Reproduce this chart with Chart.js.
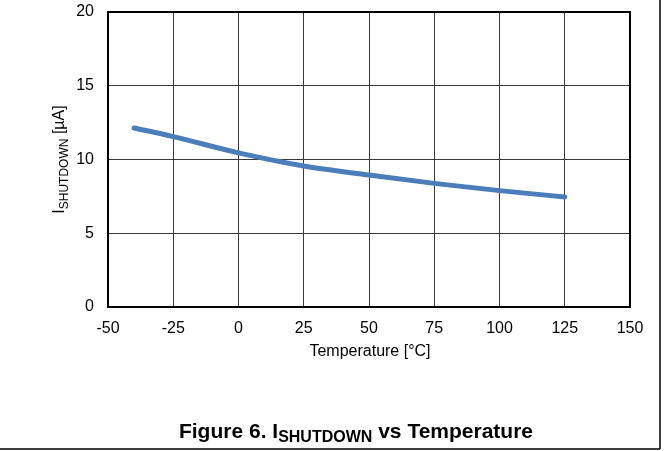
<!DOCTYPE html>
<html>
<head>
<meta charset="utf-8">
<script src="https://cdn.jsdelivr.net/npm/chart.js"></script>
<style>
  html, body { margin: 0; padding: 0; background: #fff; }
  #wrap { width: 669px; height: 451px; position: relative; }
</style>
</head>
<body>
<div id="wrap"><canvas id="chartShutdown"></canvas></div>
<script>
// 데이터
var temperatures = [-40, -25, 0, 25, 50, 75, 100, 125];
var shutdownCurrent = [12.14, 11.55, 10.45, 9.56, 8.95, 8.38, 7.89, 7.46];
var xTicks = [-50, -25, 0, 25, 50, 75, 100, 125, 150];
var yTicks = [0, 5, 10, 15, 20];

var FONT = 'Arial, "Liberation Sans", sans-serif';

// 제목/축 이름 (아래첨자 포함) 그리기
var labelPlugin = {
  id: 'labels',
  afterDraw: function(chart) {
    var ctx = chart.ctx;
    var a = chart.chartArea;
    ctx.save();
    ctx.fillStyle = '#000';

    // 플롯 테두리
    ctx.strokeStyle = '#000';
    ctx.lineWidth = 2;
    ctx.strokeRect(a.left, a.top, a.right - a.left, a.bottom - a.top);

    // 그림 테두리 (오른쪽, 아래)
    ctx.lineWidth = 1.5;
    ctx.beginPath();
    ctx.moveTo(660, 0); ctx.lineTo(660, 449);
    ctx.moveTo(0, 449); ctx.lineTo(660, 449);
    ctx.stroke();

    // x 축 이름
    ctx.font = '16px ' + FONT;
    ctx.textAlign = 'center';
    ctx.textBaseline = 'middle';
    ctx.fillText('Temperature [°C]', (a.left + a.right) / 2 + 1, 352);

    // y 축 이름 (회전)
    ctx.save();
    ctx.translate(0, (a.top + a.bottom) / 2);
    ctx.rotate(-Math.PI / 2);
    ctx.textBaseline = 'alphabetic';
    ctx.textAlign = 'left';
    var p1 = 'I', p2 = 'SHUTDOWN', p3 = ' [µA]';
    ctx.font = '16px ' + FONT; var w1 = ctx.measureText(p1).width; var w3 = ctx.measureText(p3).width;
    ctx.font = '12px ' + FONT; var w2 = ctx.measureText(p2).width;
    var sx = -(w1 + w2 + w3) / 2;
    ctx.font = '16px ' + FONT; ctx.fillText(p1, sx, 64);
    ctx.font = '12px ' + FONT; ctx.fillText(p2, sx + w1, 68);
    ctx.font = '16px ' + FONT; ctx.fillText(p3, sx + w1 + w2, 64);
    ctx.restore();

    // 그림 제목
    var t1 = 'Figure 6. I', t2 = 'SHUTDOWN', t3 = ' vs Temperature';
    ctx.textAlign = 'left';
    ctx.textBaseline = 'alphabetic';
    ctx.font = 'bold 21px ' + FONT; var q1 = ctx.measureText(t1).width; var q3 = ctx.measureText(t3).width;
    ctx.font = 'bold 16px ' + FONT; var q2 = ctx.measureText(t2).width;
    var tx = 356 - (q1 + q2 + q3) / 2;
    ctx.font = 'bold 21px ' + FONT; ctx.fillText(t1, tx, 438);
    ctx.font = 'bold 16px ' + FONT; ctx.fillText(t2, tx + q1, 442);
    ctx.font = 'bold 21px ' + FONT; ctx.fillText(t3, tx + q1 + q2, 438);
    ctx.restore();
  }
};

new Chart(document.getElementById('chartShutdown').getContext('2d'), {
  type: 'line',
  data: {
    datasets: [{
      label: 'ISHUTDOWN',
      data: temperatures.map(function(t, i){ return { x: t, y: shutdownCurrent[i] }; }),
      borderColor: '#4a7ebb',
      borderWidth: 5,
      borderCapStyle: 'round',
      pointRadius: 0,
      cubicInterpolationMode: 'monotone',
      fill: false
    }]
  },
  options: {
    responsive: true,
    maintainAspectRatio: false,
    animation: false,
    layout: { padding: { top: 12, right: 39, left: 0, bottom: 0 } },
    plugins: { legend: { display: false }, tooltip: { enabled: false } },
    scales: {
      x: {
        type: 'linear', min: -50, max: 150,
        afterBuildTicks: function(s){ s.ticks = xTicks.map(function(v){ return { value: v }; }); },
        afterFit: function(s){ s.height = 144; s.paddingLeft = 0; s.paddingRight = 0; },
        grid: { color: '#3a3a3a', lineWidth: 1, drawTicks: false },
        border: { display: false },
        ticks: { color: '#000', padding: 12, maxRotation: 0, font: { family: FONT, size: 16 } }
      },
      y: {
        type: 'linear', min: 0, max: 20,
        afterBuildTicks: function(s){ s.ticks = yTicks.map(function(v){ return { value: v }; }); },
        afterFit: function(s){ s.width = 108; s.paddingTop = 0; s.paddingBottom = 0; },
        grid: { color: '#3a3a3a', lineWidth: 1, drawTicks: false },
        border: { display: false },
        ticks: { color: '#000', padding: 14, font: { family: FONT, size: 16 } }
      }
    }
  },
  plugins: [labelPlugin]
});
</script>
</body>
</html>
